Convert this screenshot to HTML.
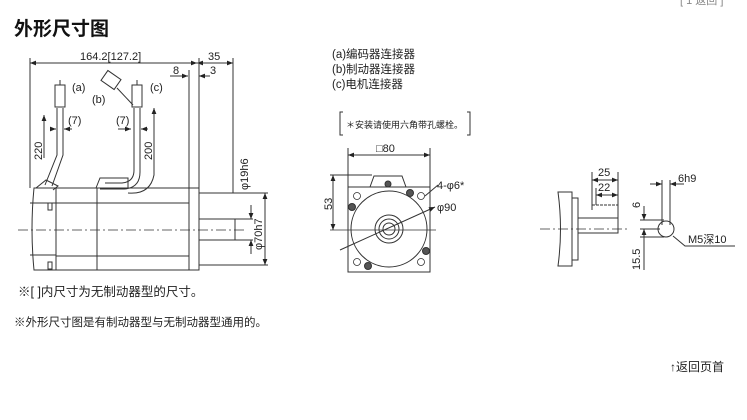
<!DOCTYPE html>
<html><head><meta charset="utf-8"><style>
body{margin:0;background:#fff;width:747px;height:420px;overflow:hidden;font-family:"Liberation Sans","Noto Sans CJK SC",sans-serif;}
.t{position:absolute;color:#222;white-space:nowrap}
</style></head><body>
<div class="t" style="left:14px;top:14px;font-size:19px;font-weight:bold;color:#111">外形尺寸图</div>
<div class="t" style="left:680px;top:-8px;font-size:11px;color:#888">[ 1 返回 ]</div>
<svg width="747" height="420" style="position:absolute;left:0;top:0" font-family="Liberation Sans, Noto Sans CJK SC, sans-serif" fill="none" stroke="#333" stroke-width="1">
<defs><marker id="a" viewBox="0 0 10 10" refX="10" refY="5" markerWidth="6" markerHeight="6" orient="auto-start-reverse"><path d="M0,1L10,5L0,9z" fill="#222" stroke="none"/></marker></defs>
<!-- left view -->
<line x1="30" y1="58" x2="30" y2="188"/>
<line x1="30" y1="63" x2="197" y2="63" marker-start="url(#a)" marker-end="url(#a)"/>
<line x1="197" y1="63" x2="233" y2="63" marker-start="url(#a)" marker-end="url(#a)"/>
<line x1="170" y1="76" x2="188" y2="76" marker-end="url(#a)"/>
<line x1="210" y1="76" x2="199" y2="76" marker-end="url(#a)"/>
<line x1="189" y1="70" x2="189" y2="188"/><line x1="199" y1="58" x2="199" y2="188"/><line x1="233" y1="58" x2="233" y2="193"/>
<g fill="#222" stroke="none" font-size="11"><text x="80" y="60">164.2[127.2]</text><text x="208" y="60">35</text><text x="173" y="74">8</text><text x="210" y="74">3</text></g>
<!-- body -->
<path d="M34,188 L56,188 L56,270 L34,270 Q30,229 34,188Z"/>
<line x1="30" y1="203" x2="56" y2="203"/><line x1="30" y1="255" x2="56" y2="255"/>
<rect x="56" y="188" width="133" height="82"/>
<line x1="97" y1="188" x2="97" y2="270"/>
<line x1="56" y1="203" x2="189" y2="203"/>
<line x1="56" y1="256" x2="189" y2="256"/>
<rect x="48" y="203" width="4" height="7"/><rect x="48" y="262" width="4" height="7"/>
<rect x="189" y="188" width="10" height="82"/>
<line x1="199" y1="193" x2="268" y2="193"/><line x1="199" y1="265" x2="268" y2="265"/>
<rect x="199" y="219" width="36" height="21"/>
<line x1="18" y1="230" x2="245" y2="230" stroke-dasharray="10,3,2,3" stroke-width="0.7"/>
<line x1="251" y1="205" x2="251" y2="219" marker-end="url(#a)"/><line x1="251" y1="254" x2="251" y2="240" marker-end="url(#a)"/><line x1="235" y1="219" x2="253" y2="219"/><line x1="235" y1="240" x2="253" y2="240"/>
<line x1="265" y1="193" x2="265" y2="265" marker-start="url(#a)" marker-end="url(#a)"/>
<g fill="#222" stroke="none" font-size="11"><text transform="translate(248,190) rotate(-90)">φ19h6</text><text transform="translate(262,250) rotate(-90)">φ70h7</text></g>
<!-- cables -->
<path d="M57,108 L57,155 L45,185 M63,108 L63,155 L52,186"/>
<path d="M36,188 L46,180 L58,186 L53,190"/>
<rect x="55" y="85" width="10" height="22"/><line x1="60" y1="80" x2="60" y2="85"/>
<path d="M44,158 L44,115" marker-end="url(#a)"/>
<line x1="50" y1="129" x2="56" y2="129" marker-end="url(#a)"/><line x1="72" y1="129" x2="64" y2="129" marker-end="url(#a)"/>
<path d="M134,108 L134,170 Q134,182 122,183 L105,183 M140,108 L140,172 Q140,188 124,189 L100,189"/>
<rect x="132" y="85" width="10" height="22"/><line x1="137" y1="80" x2="137" y2="85"/>
<path d="M96,188 L100,178 L128,178 L128,188"/>
<rect x="103" y="74" width="16" height="12" transform="rotate(35 111 80)"/>
<line x1="117" y1="88" x2="133" y2="105"/>
<path d="M154,110 L154,175 Q150,195 128,193" />
<path d="M154,110 L154,108" marker-end="url(#a)"/>
<line x1="118" y1="129" x2="131" y2="129" marker-end="url(#a)"/><line x1="148" y1="129" x2="141" y2="129" marker-end="url(#a)"/>
<g fill="#222" stroke="none" font-size="11"><text x="72" y="91">(a)</text><text x="92" y="103">(b)</text><text x="150" y="91">(c)</text><text x="68" y="124">(7)</text><text x="116" y="124">(7)</text><text transform="translate(42,160) rotate(-90)">220</text><text transform="translate(152,160) rotate(-90)">200</text></g>
<!-- middle -->
<g fill="#222" stroke="none" font-size="11.5"><text x="332" y="58">(a)编码器连接器</text><text x="332" y="73">(b)制动器连接器</text><text x="332" y="88">(c)电机连接器</text><text x="346" y="128" font-size="9">＊安装请使用六角带孔螺栓。</text><text x="376" y="152" font-size="11">□80</text><text x="437" y="189" font-size="11">4-φ6*</text><text x="437" y="211" font-size="11">φ90</text><text transform="translate(332,210) rotate(-90)" font-size="11">53</text></g>
<path d="M343,112 L340,112 L340,135 L343,135 M467,112 L470,112 L470,135 L467,135"/>
<line x1="348" y1="148" x2="348" y2="187"/><line x1="430" y1="148" x2="430" y2="187"/>
<line x1="348" y1="155" x2="430" y2="155" marker-start="url(#a)" marker-end="url(#a)"/>
<line x1="333" y1="175" x2="333" y2="230" marker-start="url(#a)" marker-end="url(#a)"/>
<line x1="330" y1="175" x2="372" y2="175"/><line x1="330" y1="230" x2="436" y2="230" stroke-width="0.7"/>
<rect x="348" y="187" width="82" height="85"/>
<path d="M370,187 L374,176 L402,176 L406,187"/>
<circle cx="389" cy="229" r="38"/><circle cx="389" cy="229" r="14"/><circle cx="389" cy="229" r="10"/><circle cx="389" cy="229" r="6"/>
<g stroke-width="0.8"><circle cx="357" cy="196" r="3.5"/><circle cx="421" cy="196" r="3.5"/><circle cx="357" cy="262" r="3.5"/><circle cx="421" cy="262" r="3.5"/></g>
<g fill="#555"><circle cx="410" cy="193" r="3.5"/><circle cx="352" cy="207" r="3.5"/><circle cx="426" cy="251" r="3.5"/><circle cx="368" cy="266" r="3.5"/><circle cx="388" cy="184" r="3"/></g>
<line x1="340" y1="250" x2="435" y2="207" marker-end="url(#a)"/>
<line x1="425" y1="196" x2="438" y2="185"/>
<!-- right view -->
<path d="M558,192 L572,192 L572,266 L558,266 Q563,229 558,192Z"/>
<rect x="572" y="198" width="6" height="62"/>
<rect x="578" y="218" width="40" height="15"/>
<line x1="592" y1="205" x2="618" y2="205" stroke-dasharray="3,1"/>
<line x1="540" y1="229" x2="628" y2="229" stroke-dasharray="10,3,2,3" stroke-width="0.7"/>
<line x1="592" y1="172" x2="592" y2="210"/><line x1="618" y1="172" x2="618" y2="218"/>
<line x1="592" y1="180" x2="618" y2="180" marker-start="url(#a)" marker-end="url(#a)"/>
<line x1="596" y1="195" x2="618" y2="195" marker-start="url(#a)" marker-end="url(#a)"/>
<line x1="596" y1="188" x2="596" y2="205"/>
<circle cx="666" cy="229" r="8"/>
<line x1="662" y1="180" x2="662" y2="225"/><line x1="670" y1="180" x2="670" y2="225"/>
<line x1="650" y1="184" x2="662" y2="184" marker-end="url(#a)"/><line x1="684" y1="184" x2="670" y2="184" marker-end="url(#a)"/>
<line x1="640" y1="220" x2="664" y2="220"/><line x1="640" y1="229" x2="660" y2="229"/><line x1="640" y1="237" x2="664" y2="237"/>
<line x1="644" y1="206" x2="644" y2="220" marker-end="url(#a)"/><line x1="644" y1="248" x2="644" y2="229" marker-end="url(#a)"/><line x1="644" y1="248" x2="644" y2="270"/>
<path d="M673,236 L685,246 L735,246" />
<g fill="#222" stroke="none" font-size="11"><text x="598" y="176">25</text><text x="598" y="191">22</text><text x="678" y="182">6h9</text><text x="688" y="243">M5深10</text><text transform="translate(640,208) rotate(-90)">6</text><text transform="translate(640,270) rotate(-90)">15.5</text></g>
</svg>
<div class="t" style="left:18px;top:281px;font-size:12.5px">※[ ]内尺寸为无制动器型的尺寸。</div>
<div class="t" style="left:14px;top:314px;font-size:11.5px">※外形尺寸图是有制动器型与无制动器型通用的。</div>
<div class="t" style="left:670px;top:358px;font-size:12px">↑返回页首</div>
</body></html>
